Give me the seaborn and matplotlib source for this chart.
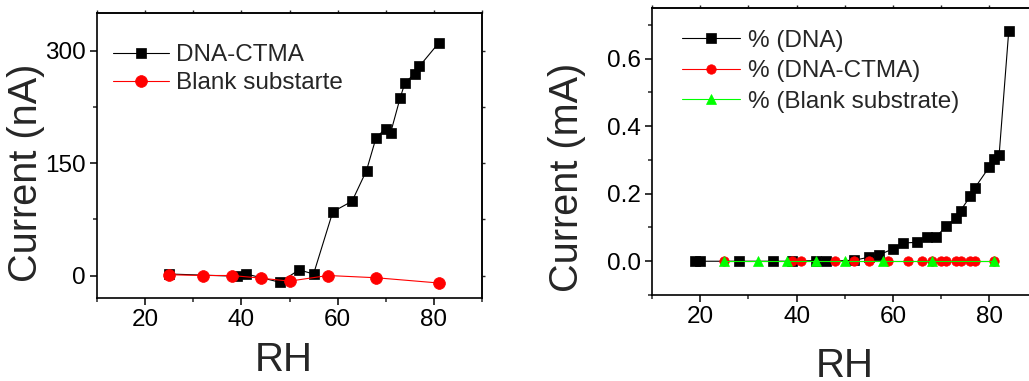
import numpy as np
import pandas as pd
import matplotlib
matplotlib.use("Agg")
import matplotlib.pyplot as plt
import seaborn as sns

# ---------------- data ----------------
# Left panel: current (nA) vs RH
ctma_rh = [25, 39, 41, 48, 52, 55, 59, 63, 66, 68, 70, 71, 73, 74, 76, 77, 81]
ctma_na = [2, -1, 2, -9, 7.5, 2, 85, 99, 140, 184, 196, 190, 237, 257, 269, 279, 310]
blank_rh = [25, 32, 38, 44, 50, 58, 68, 81]
blank_na = [1, 0, 0, -3.5, -7.5, 0, -3, -10]

# Right panel: current (mA) vs RH
dna_rh = [19, 20, 28, 35, 39, 44, 46, 52, 55, 57, 60, 62, 65, 67, 69, 71, 73, 74, 76, 77, 80, 81, 82, 84]
dna_ma = [0, 0, 0, 0, 0, 0.002, 0, 0.003, 0.012, 0.018, 0.037, 0.054, 0.056, 0.073, 0.073,
          0.104, 0.127, 0.150, 0.192, 0.218, 0.280, 0.302, 0.315, 0.683]
pct_ctma_rh = [25, 39, 41, 48, 52, 55, 59, 63, 66, 68, 70, 71, 73, 74, 76, 77, 81]
pct_ctma_ma = [0, 0, 0, 0, 0, 0, 0, 0, 0, 0, 0, 0, 0, 0, 0, 0, 0]
pct_blank_rh = [25, 32, 38, 44, 50, 58, 68, 81]
pct_blank_ma = [0, 0, 0, 0, 0, 0, 0, 0]

left_labels = ["DNA-CTMA", "Blank substarte"]
right_labels = ["% (DNA)", "% (DNA-CTMA)", "% (Blank substrate)"]

# ---------------- style ----------------
sns.set_style("ticks")
plt.rcParams["font.family"] = ["Liberation Sans", "DejaVu Sans"]
plt.rcParams["axes.linewidth"] = 1.2

fig = plt.figure(figsize=(10.29, 3.81), dpi=100)
axL = fig.add_axes([97 / 1029, (381 - 298) / 381, 385 / 1029, 285 / 381])
axR = fig.add_axes([652 / 1029, (381 - 295) / 381, 385.7 / 1029, 287 / 381])

GREEN = "#00ff00"


def line(ax, x, y, color, marker, ms, label):
    df = pd.DataFrame({"x": x, "y": y})
    sns.lineplot(data=df, x="x", y="y", ax=ax, color=color, marker=marker,
                 markersize=ms, markeredgecolor=color, markerfacecolor=color,
                 markeredgewidth=0.5, linewidth=0.8, estimator=None, sort=False,
                 label=label)


line(axL, ctma_rh, ctma_na, "black", "s", 7.8, left_labels[0])
line(axL, blank_rh, blank_na, "red", "o", 8.5, left_labels[1])

line(axR, dna_rh, dna_ma, "black", "s", 6.8, right_labels[0])
line(axR, pct_ctma_rh, pct_ctma_ma, "red", "o", 6.8, right_labels[1])
line(axR, pct_blank_rh, pct_blank_ma, GREEN, "^", 7.5, right_labels[2])


def style(ax, xlim, ylim, xmaj, xmin, ymaj, ymin, yfmt, ylabel, ylc, xlc):
    ax.set_xlim(*xlim)
    ax.set_ylim(*ylim)
    ax.set_xticks(xmaj)
    ax.set_xticks(xmin, minor=True)
    ax.set_yticks(ymaj)
    ax.set_yticks(ymin, minor=True)
    ax.set_yticklabels([yfmt(v) for v in ymaj])
    ax.tick_params(which="major", direction="out", length=5, width=1.1,
                   labelsize=17.5, pad=3, colors="black")
    ax.tick_params(which="minor", direction="out", length=3, width=1.1)
    for s in ax.spines.values():
        s.set_visible(True)
        s.set_linewidth(1.2)
        s.set_color("black")
    ax.set_xlabel("RH", fontsize=29)
    ax.set_ylabel(ylabel, fontsize=28.5)
    ax.yaxis.set_label_coords(*ylc)
    ax.xaxis.set_label_coords(*xlc)
    # mirrored small ticks on top and right
    allx = sorted(list(xmaj) + list(xmin))
    ally = sorted(list(ymaj) + list(ymin))
    sx = ax.secondary_xaxis("top")
    sx.set_xticks(allx)
    sx.tick_params(direction="out", length=2.5, width=1.0, labeltop=False)
    sx.spines["top"].set_linewidth(1.2)
    sy = ax.secondary_yaxis("right")
    sy.set_yticks(ally)
    sy.tick_params(direction="out", length=2.5, width=1.0, labelright=False)
    sy.spines["right"].set_linewidth(1.2)


style(axL, (10, 90), (-30, 350), [20, 40, 60, 80], [10, 30, 50, 70, 90],
      [0, 150, 300], [75, 225], lambda v: f"{v:d}", "Current (nA)",
      (-0.134, 0.44), (0.484, -0.152))
style(axR, (10, 90), (-0.1, 0.75), [20, 40, 60, 80], [10, 30, 50, 70, 90],
      [0.0, 0.2, 0.4, 0.6], [-0.1, 0.1, 0.3, 0.5, 0.7], lambda v: f"{v:.1f}",
      "Current (mA)", (-0.172, 0.41), (0.499, -0.18))

axL.legend(loc="upper left", bbox_to_anchor=(0.042, 0.89), frameon=False,
           fontsize=17.5, borderaxespad=0, borderpad=0, handlelength=2.3,
           handletextpad=0.3, labelspacing=0.25)
axR.legend(loc="upper left", bbox_to_anchor=(0.078, 0.925), frameon=False,
           fontsize=17.5, borderaxespad=0, borderpad=0, handlelength=2.4,
           handletextpad=0.3, labelspacing=0.35)

fig.savefig("out.png", dpi=100)
